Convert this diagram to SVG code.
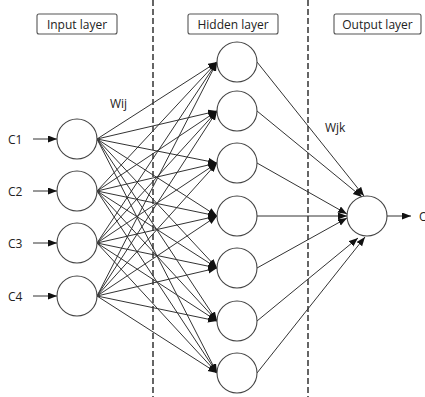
<svg xmlns="http://www.w3.org/2000/svg" width="425" height="397" viewBox="0 0 425 397">
  <defs>
    <marker id="arrow" markerUnits="userSpaceOnUse" markerWidth="10" markerHeight="8" refX="9" refY="3.5" orient="auto">
      <path d="M0,0 L9,3.5 L0,7 z" fill="#111"/>
    </marker>
    <style>
      .node { fill: #fff; stroke: #444; stroke-width: 1.1; }
      .box { fill: #fff; stroke: #555; stroke-width: 1.1; }
      .edge { stroke: #333; stroke-width: 1; fill: none; marker-end: url(#arrow); }
      .divider { stroke: #333; stroke-width: 1.5; stroke-dasharray: 6 3; }
      .label { font-family: "Open Sans", "Noto Sans", "Liberation Sans", sans-serif; font-size: 12px; fill: #222; }
      .title { font-family: "Open Sans", "Noto Sans", "Liberation Sans", sans-serif; font-size: 12px; fill: #222; text-anchor: middle; }
    </style>
  </defs>
  <rect width="425" height="397" fill="#fff"/>

  <!-- layer separators -->
  <g id="dividers">
    <line class="divider" x1="153" y1="0" x2="153" y2="397"/>
    <line class="divider" x1="308" y1="0" x2="308" y2="397"/>
  </g>

  <!-- layer captions -->
  <g id="input-layer-title">
    <rect class="box" x="37" y="14" width="80" height="20" rx="2"/>
    <text class="title" x="77" y="28.5">Input layer</text>
  </g>
  <g id="hidden-layer-title">
    <rect class="box" x="188" y="14" width="90" height="20" rx="2"/>
    <text class="title" x="233" y="28.5">Hidden layer</text>
  </g>
  <g id="output-layer-title">
    <rect class="box" x="334" y="14" width="87" height="20" rx="2"/>
    <text class="title" x="377.5" y="28.5">Output layer</text>
  </g>

  <!-- connectors -->
  <g id="connectors">
    <!-- inputs into input neurons -->
    <line class="edge" x1="33" y1="139" x2="57" y2="139"/>
    <line class="edge" x1="33" y1="191" x2="57" y2="191"/>
    <line class="edge" x1="33" y1="243" x2="57" y2="243"/>
    <line class="edge" x1="33" y1="296" x2="57" y2="296"/>

    <!-- input layer to hidden layer (Wij) -->
    <line class="edge" x1="97" y1="139" x2="217" y2="62"/>
    <line class="edge" x1="97" y1="139" x2="217" y2="111"/>
    <line class="edge" x1="97" y1="139" x2="217" y2="163"/>
    <line class="edge" x1="97" y1="139" x2="217" y2="216"/>
    <line class="edge" x1="97" y1="139" x2="217" y2="268"/>
    <line class="edge" x1="97" y1="139" x2="217" y2="321"/>
    <line class="edge" x1="97" y1="139" x2="217" y2="373"/>

    <line class="edge" x1="97" y1="191" x2="217" y2="62"/>
    <line class="edge" x1="97" y1="191" x2="217" y2="111"/>
    <line class="edge" x1="97" y1="191" x2="217" y2="163"/>
    <line class="edge" x1="97" y1="191" x2="217" y2="216"/>
    <line class="edge" x1="97" y1="191" x2="217" y2="268"/>
    <line class="edge" x1="97" y1="191" x2="217" y2="321"/>
    <line class="edge" x1="97" y1="191" x2="217" y2="373"/>

    <line class="edge" x1="97" y1="243" x2="217" y2="62"/>
    <line class="edge" x1="97" y1="243" x2="217" y2="111"/>
    <line class="edge" x1="97" y1="243" x2="217" y2="163"/>
    <line class="edge" x1="97" y1="243" x2="217" y2="216"/>
    <line class="edge" x1="97" y1="243" x2="217" y2="268"/>
    <line class="edge" x1="97" y1="243" x2="217" y2="321"/>
    <line class="edge" x1="97" y1="243" x2="217" y2="373"/>

    <line class="edge" x1="97" y1="296" x2="217" y2="62"/>
    <line class="edge" x1="97" y1="296" x2="217" y2="111"/>
    <line class="edge" x1="97" y1="296" x2="217" y2="163"/>
    <line class="edge" x1="97" y1="296" x2="217" y2="216"/>
    <line class="edge" x1="97" y1="296" x2="217" y2="268"/>
    <line class="edge" x1="97" y1="296" x2="217" y2="321"/>
    <line class="edge" x1="97" y1="296" x2="217" y2="373"/>

    <!-- hidden layer to output (Wjk) -->
    <line class="edge" x1="257" y1="62" x2="364" y2="196"/>
    <line class="edge" x1="257" y1="111" x2="362" y2="197"/>
    <line class="edge" x1="257" y1="163" x2="347" y2="214"/>
    <line class="edge" x1="257" y1="216" x2="347" y2="216"/>
    <line class="edge" x1="257" y1="268" x2="347" y2="218"/>
    <line class="edge" x1="257" y1="321" x2="358" y2="238"/>
    <line class="edge" x1="257" y1="373" x2="365" y2="237"/>

    <!-- output -->
    <line class="edge" x1="387" y1="216" x2="411" y2="216"/>
  </g>

  <!-- input neurons -->
  <g id="input-1"><circle class="node" cx="77" cy="139" r="20"/><text class="label" x="8" y="143.5">C1</text></g>
  <g id="input-2"><circle class="node" cx="77" cy="191" r="20"/><text class="label" x="8" y="195.5">C2</text></g>
  <g id="input-3"><circle class="node" cx="77" cy="243" r="20"/><text class="label" x="8" y="247.5">C3</text></g>
  <g id="input-4"><circle class="node" cx="77" cy="296" r="20"/><text class="label" x="8" y="300.5">C4</text></g>

  <!-- hidden neurons -->
  <g id="hidden-1"><circle class="node" cx="237" cy="62" r="20"/></g>
  <g id="hidden-2"><circle class="node" cx="237" cy="111" r="20"/></g>
  <g id="hidden-3"><circle class="node" cx="237" cy="163" r="20"/></g>
  <g id="hidden-4"><circle class="node" cx="237" cy="216" r="20"/></g>
  <g id="hidden-5"><circle class="node" cx="237" cy="268" r="20"/></g>
  <g id="hidden-6"><circle class="node" cx="237" cy="321" r="20"/></g>
  <g id="hidden-7"><circle class="node" cx="237" cy="373" r="20"/></g>

  <!-- output neuron -->
  <g id="output-1"><circle class="node" cx="367" cy="216" r="20"/><text class="label" x="419" y="220.5">O</text></g>

  <!-- weight labels -->
  <g id="weight-labels">
    <text class="label" x="110" y="108">Wij</text>
    <text class="label" x="325" y="132">Wjk</text>
  </g>
</svg>
